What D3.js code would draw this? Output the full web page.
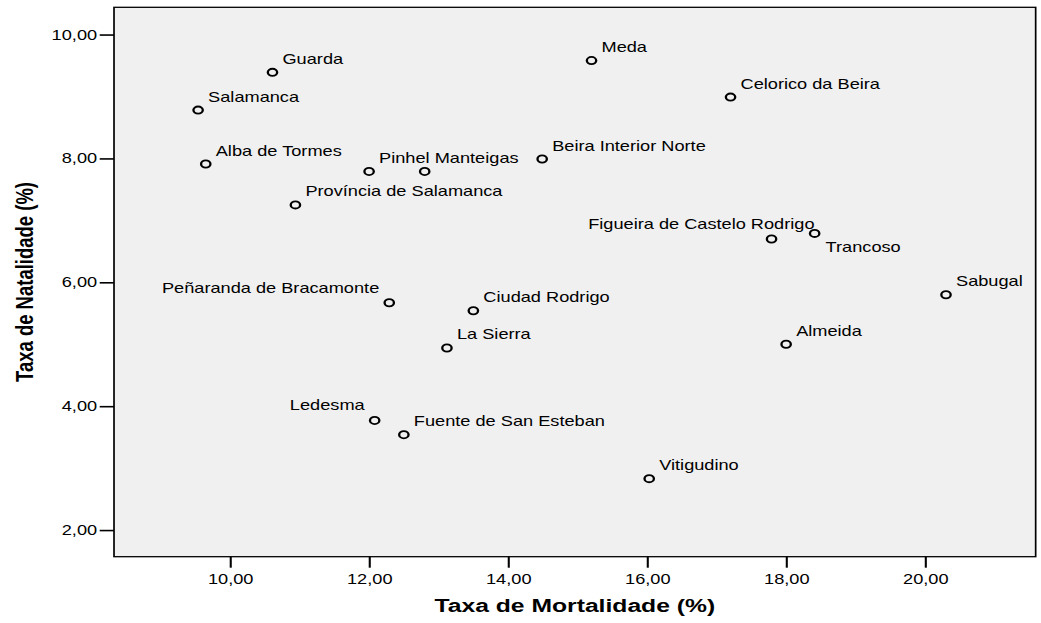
<!DOCTYPE html>
<html>
<head>
<meta charset="utf-8">
<script src="https://cdn.jsdelivr.net/npm/d3@7"></script>
<style>
    body { margin: 0; background: #fff; }
    svg { display: block; }
    text { font-family: "Liberation Sans", Arial, Helvetica, sans-serif; fill: #000; }
</style>
</head>
<body>
<svg id="chart"></svg>
<script>
// data
const names = ["Guarda", "Salamanca", "Alba de Tormes", "Pinhel", "Manteigas",
    "Província de Salamanca", "Meda", "Celorico da Beira", "Beira Interior Norte",
    "Figueira de Castelo Rodrigo", "Trancoso", "Sabugal", "Peñaranda de Bracamonte",
    "Ciudad Rodrigo", "La Sierra", "Almeida", "Ledesma", "Fuente de San Esteban", "Vitigudino"];
const mortalidade = [10.61, 9.54, 9.65, 12.00, 12.80, 10.94, 15.20, 17.20, 14.49,
    17.79, 18.41, 20.30, 12.29, 13.50, 13.12, 18.00, 12.08, 12.50, 16.03];
const natalidade = [9.39, 8.78, 7.91, 7.79, 7.79, 7.25, 9.58, 8.99, 7.99,
    6.70, 6.79, 5.80, 5.67, 5.54, 4.94, 5.00, 3.77, 3.54, 2.83];
const xTicks = [10, 12, 14, 16, 18, 20];
const yTicks = [2, 4, 6, 8, 10];

// label placement (px offsets), default is up-right of the point
const labelPlace = {
    "Peñaranda de Bracamonte": {anchor: "end", dx: -10, dy: -10},
    "Ledesma": {anchor: "end", dx: -10, dy: -10},
    "Figueira de Castelo Rodrigo": {anchor: "end", dx: 43, dy: -10},
    "Trancoso": {anchor: "start", dx: 11, dy: 19}
};
const defaultPlace = {anchor: "start", dx: 10, dy: -8.5};

const W = 1041, H = 623;
const SX = 1.3;   // source picture is stretched sideways, so is ours
const VW = W / SX;
const margin = {top: 7.3, right: 4.1, bottom: 66.3, left: 87.7};

const svg = d3.select("#chart")
    .attr("width", W)
    .attr("height", H)
    .attr("viewBox", `0 0 ${VW} ${H}`)
    .attr("preserveAspectRatio", "none");

const x = d3.scaleLinear().domain([8.33, 21.59]).range([margin.left, VW - margin.right]);
const y = d3.scaleLinear().domain([1.57, 10.44]).range([H - margin.bottom, margin.top]);

const fmt = d => d3.format(".2f")(d).replace(".", ",");

svg.append("rect")
    .attr("x", margin.left)
    .attr("y", margin.top)
    .attr("width", VW - margin.right - margin.left)
    .attr("height", H - margin.bottom - margin.top)
    .attr("fill", "#f0f0f0")
    .attr("stroke", "#000")
    .attr("stroke-width", 1.3);

const gx = svg.append("g")
    .attr("transform", `translate(0,${H - margin.bottom})`)
    .call(d3.axisBottom(x).tickValues(xTicks).tickSize(11).tickPadding(6).tickFormat(fmt));

const gy = svg.append("g")
    .attr("transform", `translate(${margin.left},0)`)
    .call(d3.axisLeft(y).tickValues(yTicks).tickSize(11).tickPadding(2).tickFormat(fmt));

[gx, gy].forEach(g => {
    g.select(".domain").remove();
    g.selectAll(".tick line").attr("stroke", "#000").attr("stroke-width", 1.6);
    g.selectAll(".tick text")
        .attr("font-size", 14)
        .style("font-family", "'Liberation Sans', Arial, sans-serif")
        .attr("fill", "#000");
});

const pts = names.map((n, i) => ({name: n, mx: mortalidade[i], ny: natalidade[i]}));

svg.append("g")
    .selectAll("circle")
    .data(pts)
    .enter()
    .append("circle")
    .attr("cx", d => x(d.mx))
    .attr("cy", d => y(d.ny))
    .attr("r", 3.6)
    .attr("fill", "none")
    .attr("stroke", "#000")
    .attr("stroke-width", 1.8);

svg.append("g")
    .selectAll("text")
    .data(pts)
    .enter()
    .append("text")
    .attr("x", d => x(d.mx) + (labelPlace[d.name] || defaultPlace).dx / SX)
    .attr("y", d => y(d.ny) + (labelPlace[d.name] || defaultPlace).dy)
    .attr("text-anchor", d => (labelPlace[d.name] || defaultPlace).anchor)
    .attr("font-size", 14)
    .text(d => d.name);

svg.append("text")
    .attr("x", (margin.left + VW - margin.right) / 2)
    .attr("y", 612)
    .attr("text-anchor", "middle")
    .attr("font-size", 19)
    .attr("font-weight", "bold")
    .text("Taxa de Mortalidade (%)");

svg.append("text")
    .attr("transform", `translate(${32.5 / SX},${(margin.top + H - margin.bottom) / 2}) rotate(-90)`)
    .attr("text-anchor", "middle")
    .attr("font-size", 18.5)
    .attr("font-weight", "bold")
    .text("Taxa de Natalidade (%)");
</script>
</body>
</html>
